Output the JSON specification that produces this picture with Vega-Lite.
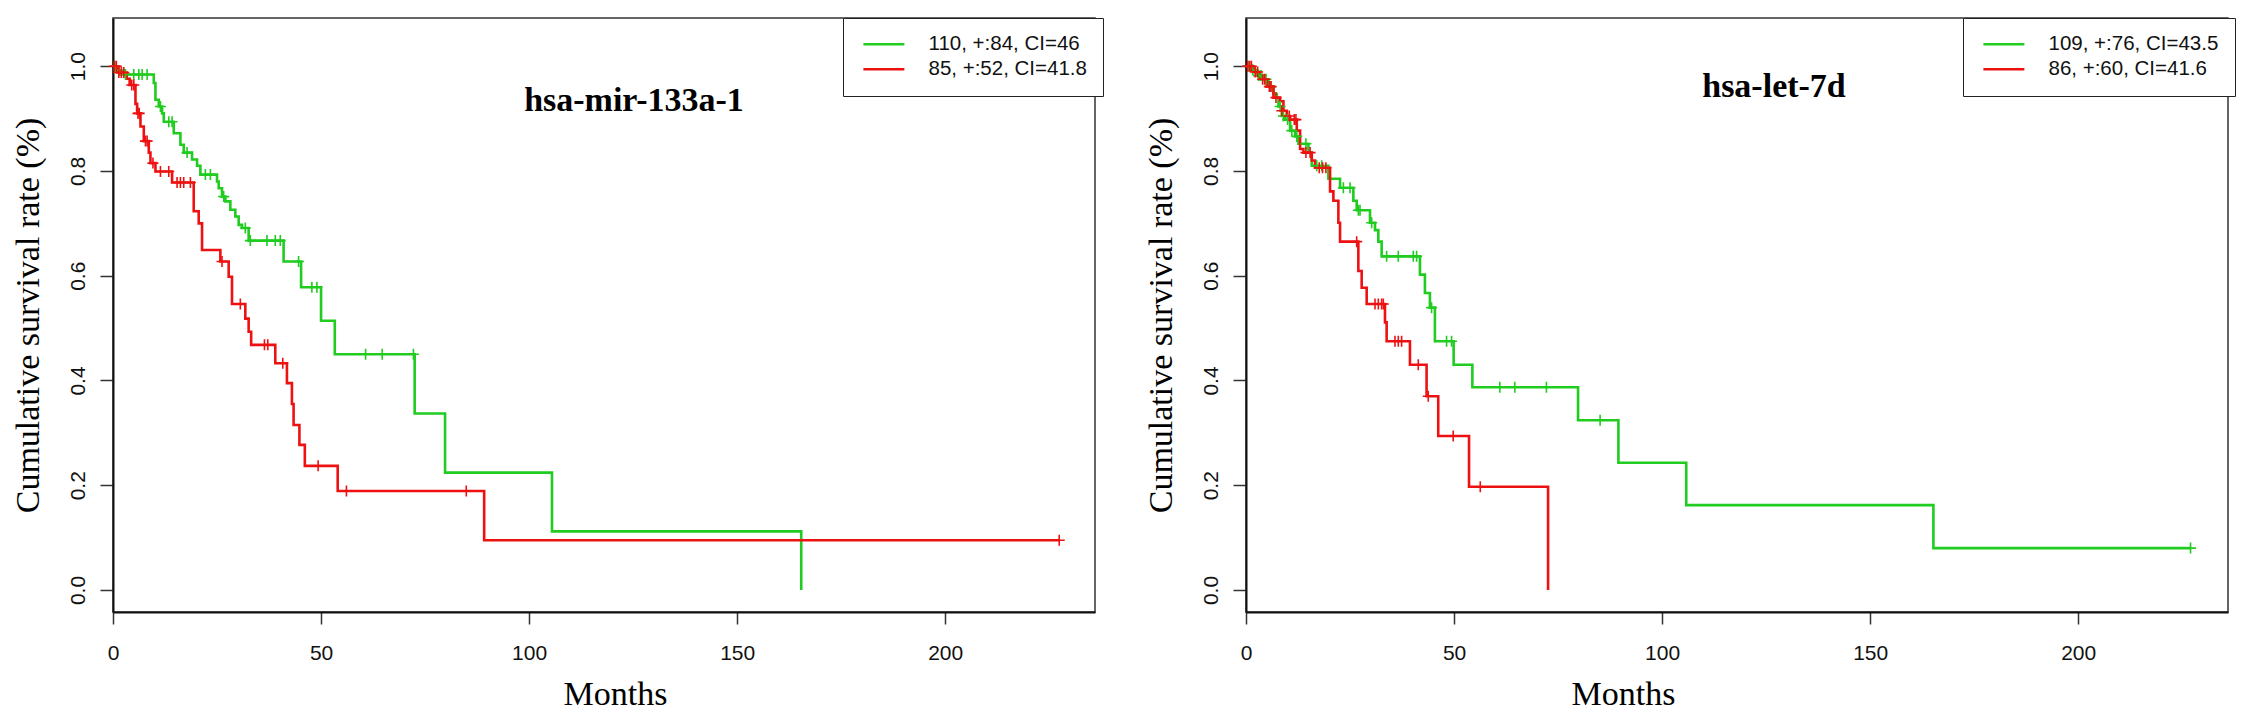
{
  "$schema": "https://vega.github.io/schema/vega-lite/v6.json",
  "background": "#ffffff",
  "padding": {"left": 10, "top": 16, "right": 0, "bottom": 0},
  "bounds": "flush",
  "spacing": 151,
  "config": {
    "view": {"stroke": "#333333", "strokeWidth": 1.5},
    "axis": {
      "grid": false,
      "domainColor": "#111111",
      "domainWidth": 2,
      "tickColor": "#333333",
      "tickWidth": 1.5,
      "labelFont": "Liberation Sans",
      "labelFontSize": 21,
      "labelColor": "#111111",
      "labelFlush": false,
      "labelOverlap": false,
      "titleFont": "Liberation Serif",
      "titleFontSize": 34,
      "titleFontWeight": "normal",
      "titleColor": "#000000"
    },
    "legend": {
      "orient": "none",
      "direction": "vertical",
      "title": null,
      "strokeColor": "#222222",
      "fillColor": "#ffffff",
      "padding": 16,
      "rowPadding": 4,
      "labelFont": "Liberation Sans",
      "labelFontSize": 20.5,
      "labelColor": "#111111",
      "labelLimit": 400,
      "labelOffset": 49,
      "symbolType": "M-1,0H6",
      "symbolSize": 137,
      "symbolStrokeWidth": 2.6,
      "symbolFillColor": "transparent"
    },
    "title": {
      "font": "Liberation Serif",
      "fontSize": 34,
      "fontWeight": "bold",
      "color": "#000000",
      "anchor": "middle",
      "frame": "group",
      "offset": 0,
      "baseline": "alphabetic"
    }
  },
  "resolve": {"scale": {"color": "independent"}, "legend": {"color": "independent"}},
  "datasets": {
    "mir_curve": [
      {"g": "g", "t": 0, "s": 1.0}, {"g": "g", "t": 1.0, "s": 0.992}, {"g": "g", "t": 2.0, "s": 0.984},
      {"g": "g", "t": 9.8, "s": 0.968}, {"g": "g", "t": 10.2, "s": 0.936}, {"g": "g", "t": 11.0, "s": 0.923},
      {"g": "g", "t": 11.8, "s": 0.91}, {"g": "g", "t": 12.2, "s": 0.894}, {"g": "g", "t": 14.6, "s": 0.872},
      {"g": "g", "t": 16.2, "s": 0.85}, {"g": "g", "t": 17.0, "s": 0.835}, {"g": "g", "t": 19.0, "s": 0.822},
      {"g": "g", "t": 20.2, "s": 0.81}, {"g": "g", "t": 21.0, "s": 0.793}, {"g": "g", "t": 25.0, "s": 0.78},
      {"g": "g", "t": 25.4, "s": 0.767}, {"g": "g", "t": 26.2, "s": 0.751}, {"g": "g", "t": 27.0, "s": 0.742},
      {"g": "g", "t": 28.2, "s": 0.726}, {"g": "g", "t": 29.4, "s": 0.713}, {"g": "g", "t": 30.2, "s": 0.697},
      {"g": "g", "t": 31.0, "s": 0.691}, {"g": "g", "t": 32.6, "s": 0.667}, {"g": "g", "t": 41.0, "s": 0.627},
      {"g": "g", "t": 45.2, "s": 0.578}, {"g": "g", "t": 50.0, "s": 0.514}, {"g": "g", "t": 53.3, "s": 0.45},
      {"g": "g", "t": 72.5, "s": 0.337}, {"g": "g", "t": 79.8, "s": 0.224}, {"g": "g", "t": 105.5, "s": 0.112},
      {"g": "g", "t": 165.4, "s": 0.0},
      {"g": "r", "t": 0, "s": 1.0}, {"g": "r", "t": 1.0, "s": 0.988}, {"g": "r", "t": 3.3, "s": 0.976},
      {"g": "r", "t": 4.0, "s": 0.964}, {"g": "r", "t": 5.4, "s": 0.928}, {"g": "r", "t": 5.8, "s": 0.91},
      {"g": "r", "t": 6.6, "s": 0.885}, {"g": "r", "t": 7.4, "s": 0.857}, {"g": "r", "t": 8.6, "s": 0.835},
      {"g": "r", "t": 9.0, "s": 0.815}, {"g": "r", "t": 10.2, "s": 0.799}, {"g": "r", "t": 14.2, "s": 0.778},
      {"g": "r", "t": 19.4, "s": 0.723}, {"g": "r", "t": 20.6, "s": 0.7}, {"g": "r", "t": 21.4, "s": 0.649},
      {"g": "r", "t": 25.8, "s": 0.627}, {"g": "r", "t": 27.8, "s": 0.598}, {"g": "r", "t": 28.6, "s": 0.546},
      {"g": "r", "t": 31.8, "s": 0.518}, {"g": "r", "t": 32.6, "s": 0.493}, {"g": "r", "t": 33.2, "s": 0.468},
      {"g": "r", "t": 39.0, "s": 0.433}, {"g": "r", "t": 41.8, "s": 0.395}, {"g": "r", "t": 43.0, "s": 0.355},
      {"g": "r", "t": 43.4, "s": 0.315}, {"g": "r", "t": 44.8, "s": 0.277}, {"g": "r", "t": 46.1, "s": 0.237},
      {"g": "r", "t": 54.0, "s": 0.189}, {"g": "r", "t": 89.2, "s": 0.095}, {"g": "r", "t": 227.4, "s": 0.095}
    ],
    "mir_cens": [
      {"g": "g", "t": 0.5, "s": 1.0}, {"g": "g", "t": 1.5, "s": 0.992}, {"g": "g", "t": 3.0, "s": 0.984},
      {"g": "g", "t": 5.0, "s": 0.984}, {"g": "g", "t": 6.2, "s": 0.984}, {"g": "g", "t": 7.0, "s": 0.984},
      {"g": "g", "t": 8.2, "s": 0.984}, {"g": "g", "t": 11.4, "s": 0.923}, {"g": "g", "t": 13.4, "s": 0.894},
      {"g": "g", "t": 14.2, "s": 0.894}, {"g": "g", "t": 17.8, "s": 0.835}, {"g": "g", "t": 22.2, "s": 0.793},
      {"g": "g", "t": 23.4, "s": 0.793}, {"g": "g", "t": 26.6, "s": 0.751}, {"g": "g", "t": 31.8, "s": 0.691},
      {"g": "g", "t": 33.0, "s": 0.667}, {"g": "g", "t": 37.0, "s": 0.667}, {"g": "g", "t": 39.0, "s": 0.667},
      {"g": "g", "t": 40.2, "s": 0.667}, {"g": "g", "t": 44.6, "s": 0.627}, {"g": "g", "t": 47.8, "s": 0.578},
      {"g": "g", "t": 49.0, "s": 0.578}, {"g": "g", "t": 60.7, "s": 0.45}, {"g": "g", "t": 64.7, "s": 0.45},
      {"g": "g", "t": 72.2, "s": 0.45},
      {"g": "r", "t": 0.3, "s": 1.0}, {"g": "r", "t": 0.8, "s": 1.0}, {"g": "r", "t": 1.4, "s": 0.988},
      {"g": "r", "t": 2.0, "s": 0.988}, {"g": "r", "t": 2.6, "s": 0.988}, {"g": "r", "t": 4.5, "s": 0.964},
      {"g": "r", "t": 5.0, "s": 0.964}, {"g": "r", "t": 6.0, "s": 0.91}, {"g": "r", "t": 6.3, "s": 0.91},
      {"g": "r", "t": 7.8, "s": 0.857}, {"g": "r", "t": 8.2, "s": 0.857}, {"g": "r", "t": 9.6, "s": 0.815},
      {"g": "r", "t": 11.4, "s": 0.799}, {"g": "r", "t": 13.4, "s": 0.799}, {"g": "r", "t": 15.4, "s": 0.778},
      {"g": "r", "t": 16.2, "s": 0.778}, {"g": "r", "t": 17.0, "s": 0.778}, {"g": "r", "t": 18.6, "s": 0.778},
      {"g": "r", "t": 26.2, "s": 0.627}, {"g": "r", "t": 30.6, "s": 0.546}, {"g": "r", "t": 36.4, "s": 0.468},
      {"g": "r", "t": 37.2, "s": 0.468}, {"g": "r", "t": 40.8, "s": 0.433}, {"g": "r", "t": 49.3, "s": 0.237},
      {"g": "r", "t": 56.1, "s": 0.189}, {"g": "r", "t": 84.9, "s": 0.189}, {"g": "r", "t": 227.4, "s": 0.095}
    ],
    "let_curve": [
      {"g": "g", "t": 0, "s": 1.0}, {"g": "g", "t": 1.0, "s": 0.993}, {"g": "g", "t": 2.6, "s": 0.982},
      {"g": "g", "t": 4.2, "s": 0.975}, {"g": "g", "t": 5.4, "s": 0.961}, {"g": "g", "t": 6.6, "s": 0.947},
      {"g": "g", "t": 7.4, "s": 0.94}, {"g": "g", "t": 7.8, "s": 0.923}, {"g": "g", "t": 8.6, "s": 0.905},
      {"g": "g", "t": 9.4, "s": 0.898}, {"g": "g", "t": 10.6, "s": 0.877}, {"g": "g", "t": 11.8, "s": 0.866},
      {"g": "g", "t": 12.6, "s": 0.852}, {"g": "g", "t": 15.0, "s": 0.835}, {"g": "g", "t": 15.8, "s": 0.81},
      {"g": "g", "t": 19.8, "s": 0.785}, {"g": "g", "t": 22.6, "s": 0.768}, {"g": "g", "t": 25.8, "s": 0.743},
      {"g": "g", "t": 26.6, "s": 0.725}, {"g": "g", "t": 29.8, "s": 0.701}, {"g": "g", "t": 31.0, "s": 0.687},
      {"g": "g", "t": 31.8, "s": 0.665}, {"g": "g", "t": 32.6, "s": 0.637}, {"g": "g", "t": 41.8, "s": 0.602},
      {"g": "g", "t": 43.0, "s": 0.567}, {"g": "g", "t": 44.2, "s": 0.539}, {"g": "g", "t": 45.4, "s": 0.475},
      {"g": "g", "t": 49.9, "s": 0.43}, {"g": "g", "t": 54.4, "s": 0.387}, {"g": "g", "t": 79.8, "s": 0.324},
      {"g": "g", "t": 89.5, "s": 0.243}, {"g": "g", "t": 105.8, "s": 0.162}, {"g": "g", "t": 165.2, "s": 0.08},
      {"g": "g", "t": 227.0, "s": 0.08},
      {"g": "r", "t": 0, "s": 1.0}, {"g": "r", "t": 1.8, "s": 0.989}, {"g": "r", "t": 3.4, "s": 0.975},
      {"g": "r", "t": 5.0, "s": 0.961}, {"g": "r", "t": 6.6, "s": 0.94}, {"g": "r", "t": 8.2, "s": 0.933},
      {"g": "r", "t": 9.0, "s": 0.915}, {"g": "r", "t": 9.8, "s": 0.905}, {"g": "r", "t": 10.6, "s": 0.898},
      {"g": "r", "t": 12.2, "s": 0.877}, {"g": "r", "t": 13.0, "s": 0.842}, {"g": "r", "t": 13.8, "s": 0.835},
      {"g": "r", "t": 15.8, "s": 0.82}, {"g": "r", "t": 16.6, "s": 0.806}, {"g": "r", "t": 20.2, "s": 0.761},
      {"g": "r", "t": 21.0, "s": 0.743}, {"g": "r", "t": 22.2, "s": 0.701}, {"g": "r", "t": 22.6, "s": 0.665},
      {"g": "r", "t": 27.0, "s": 0.609}, {"g": "r", "t": 27.8, "s": 0.577}, {"g": "r", "t": 29.0, "s": 0.546},
      {"g": "r", "t": 33.4, "s": 0.511}, {"g": "r", "t": 33.8, "s": 0.475}, {"g": "r", "t": 39.4, "s": 0.43},
      {"g": "r", "t": 43.4, "s": 0.37}, {"g": "r", "t": 46.2, "s": 0.294}, {"g": "r", "t": 53.6, "s": 0.197},
      {"g": "r", "t": 72.6, "s": 0.0}
    ],
    "let_cens": [
      {"g": "g", "t": 0.5, "s": 1.0}, {"g": "g", "t": 1.6, "s": 0.993}, {"g": "g", "t": 3.0, "s": 0.982},
      {"g": "g", "t": 3.6, "s": 0.982}, {"g": "g", "t": 4.8, "s": 0.975}, {"g": "g", "t": 6.0, "s": 0.961},
      {"g": "g", "t": 8.2, "s": 0.923}, {"g": "g", "t": 9.0, "s": 0.905}, {"g": "g", "t": 10.0, "s": 0.898},
      {"g": "g", "t": 11.0, "s": 0.877}, {"g": "g", "t": 12.2, "s": 0.866}, {"g": "g", "t": 14.4, "s": 0.852},
      {"g": "g", "t": 17.0, "s": 0.81}, {"g": "g", "t": 18.2, "s": 0.81}, {"g": "g", "t": 23.4, "s": 0.768},
      {"g": "g", "t": 25.0, "s": 0.768}, {"g": "g", "t": 27.0, "s": 0.725}, {"g": "g", "t": 27.4, "s": 0.725},
      {"g": "g", "t": 30.2, "s": 0.701}, {"g": "g", "t": 33.8, "s": 0.637}, {"g": "g", "t": 36.6, "s": 0.637},
      {"g": "g", "t": 40.2, "s": 0.637}, {"g": "g", "t": 41.0, "s": 0.637}, {"g": "g", "t": 44.6, "s": 0.539},
      {"g": "g", "t": 48.2, "s": 0.475}, {"g": "g", "t": 49.4, "s": 0.475}, {"g": "g", "t": 61.0, "s": 0.387},
      {"g": "g", "t": 64.6, "s": 0.387}, {"g": "g", "t": 72.2, "s": 0.387}, {"g": "g", "t": 85.1, "s": 0.324},
      {"g": "g", "t": 227.0, "s": 0.08},
      {"g": "r", "t": 0.4, "s": 1.0}, {"g": "r", "t": 0.9, "s": 1.0}, {"g": "r", "t": 1.3, "s": 1.0},
      {"g": "r", "t": 2.2, "s": 0.989}, {"g": "r", "t": 2.8, "s": 0.989}, {"g": "r", "t": 4.0, "s": 0.975},
      {"g": "r", "t": 4.5, "s": 0.975}, {"g": "r", "t": 5.6, "s": 0.961}, {"g": "r", "t": 6.0, "s": 0.961},
      {"g": "r", "t": 7.2, "s": 0.94}, {"g": "r", "t": 8.6, "s": 0.915}, {"g": "r", "t": 10.4, "s": 0.905},
      {"g": "r", "t": 11.6, "s": 0.898}, {"g": "r", "t": 12.0, "s": 0.898}, {"g": "r", "t": 14.4, "s": 0.835},
      {"g": "r", "t": 15.4, "s": 0.835}, {"g": "r", "t": 17.6, "s": 0.806}, {"g": "r", "t": 18.4, "s": 0.806},
      {"g": "r", "t": 19.2, "s": 0.806}, {"g": "r", "t": 26.6, "s": 0.665}, {"g": "r", "t": 31.0, "s": 0.546},
      {"g": "r", "t": 31.8, "s": 0.546}, {"g": "r", "t": 32.6, "s": 0.546}, {"g": "r", "t": 33.0, "s": 0.546},
      {"g": "r", "t": 35.8, "s": 0.475}, {"g": "r", "t": 36.6, "s": 0.475}, {"g": "r", "t": 37.4, "s": 0.475},
      {"g": "r", "t": 41.4, "s": 0.43}, {"g": "r", "t": 43.8, "s": 0.37}, {"g": "r", "t": 49.8, "s": 0.294},
      {"g": "r", "t": 56.3, "s": 0.197}
    ]
  },
  "hconcat": [
    {
      "width": 982,
      "height": 594,
      "title": {"text": "hsa-mir-133a-1", "dx": 30, "dy": 104},
      "encoding": {
        "x": {
          "field": "t", "type": "quantitative",
          "scale": {"domain": [0, 236], "nice": false, "zero": false},
          "axis": {
            "values": [0, 50, 100, 150, 200], "title": "Months",
            "tickSize": 12, "labelPadding": 35, "labelBaseline": "alphabetic",
            "titleX": 502, "titleY": 92, "titleAlign": "center", "titleBaseline": "alphabetic"
          }
        },
        "y": {
          "field": "s", "type": "quantitative",
          "scale": {"domain": [-0.042, 1.092], "nice": false, "zero": false},
          "axis": {
            "values": [0, 0.2, 0.4, 0.6, 0.8, 1.0], "format": ".1f",
            "title": "Cumulative survival rate (%)",
            "tickSize": 13, "labelPadding": 16, "labelAngle": -90,
            "labelAlign": "center", "labelBaseline": "alphabetic",
            "titleX": -75, "titleY": 297, "titleAngle": -90,
            "titleAlign": "center", "titleBaseline": "alphabetic"
          }
        },
        "color": {
          "field": "g", "type": "nominal",
          "scale": {"domain": ["g", "r"], "range": ["#1fcc1f", "#ee1111"]},
          "legend": {
            "legendX": 730, "legendY": 0,
            "labelExpr": "datum.label == 'g' ? '110, +:84, CI=46' : '85, +:52, CI=41.8'"
          }
        }
      },
      "layer": [
        {
          "data": {"name": "mir_curve"},
          "mark": {"type": "line", "interpolate": "step-after", "strokeWidth": 2.6}
        },
        {
          "data": {"name": "mir_cens"},
          "mark": {"type": "point", "shape": "M-1,0H1M0,-1V1", "filled": false, "size": 121, "strokeWidth": 1.6, "opacity": 1}
        }
      ]
    },
    {
      "width": 982,
      "height": 594,
      "title": {"text": "hsa-let-7d", "dx": 37, "dy": 90},
      "encoding": {
        "x": {
          "field": "t", "type": "quantitative",
          "scale": {"domain": [0, 236], "nice": false, "zero": false},
          "axis": {
            "values": [0, 50, 100, 150, 200], "title": "Months",
            "tickSize": 12, "labelPadding": 35, "labelBaseline": "alphabetic",
            "titleX": 377, "titleY": 92, "titleAlign": "center", "titleBaseline": "alphabetic"
          }
        },
        "y": {
          "field": "s", "type": "quantitative",
          "scale": {"domain": [-0.042, 1.092], "nice": false, "zero": false},
          "axis": {
            "values": [0, 0.2, 0.4, 0.6, 0.8, 1.0], "format": ".1f",
            "title": "Cumulative survival rate (%)",
            "tickSize": 13, "labelPadding": 16, "labelAngle": -90,
            "labelAlign": "center", "labelBaseline": "alphabetic",
            "titleX": -75, "titleY": 297, "titleAngle": -90,
            "titleAlign": "center", "titleBaseline": "alphabetic"
          }
        },
        "color": {
          "field": "g", "type": "nominal",
          "scale": {"domain": ["g", "r"], "range": ["#1fcc1f", "#ee1111"]},
          "legend": {
            "legendX": 717, "legendY": 0,
            "labelExpr": "datum.label == 'g' ? '109, +:76, CI=43.5' : '86, +:60, CI=41.6'"
          }
        }
      },
      "layer": [
        {
          "data": {"name": "let_curve"},
          "mark": {"type": "line", "interpolate": "step-after", "strokeWidth": 2.6}
        },
        {
          "data": {"name": "let_cens"},
          "mark": {"type": "point", "shape": "M-1,0H1M0,-1V1", "filled": false, "size": 121, "strokeWidth": 1.6, "opacity": 1}
        }
      ]
    }
  ]
}
